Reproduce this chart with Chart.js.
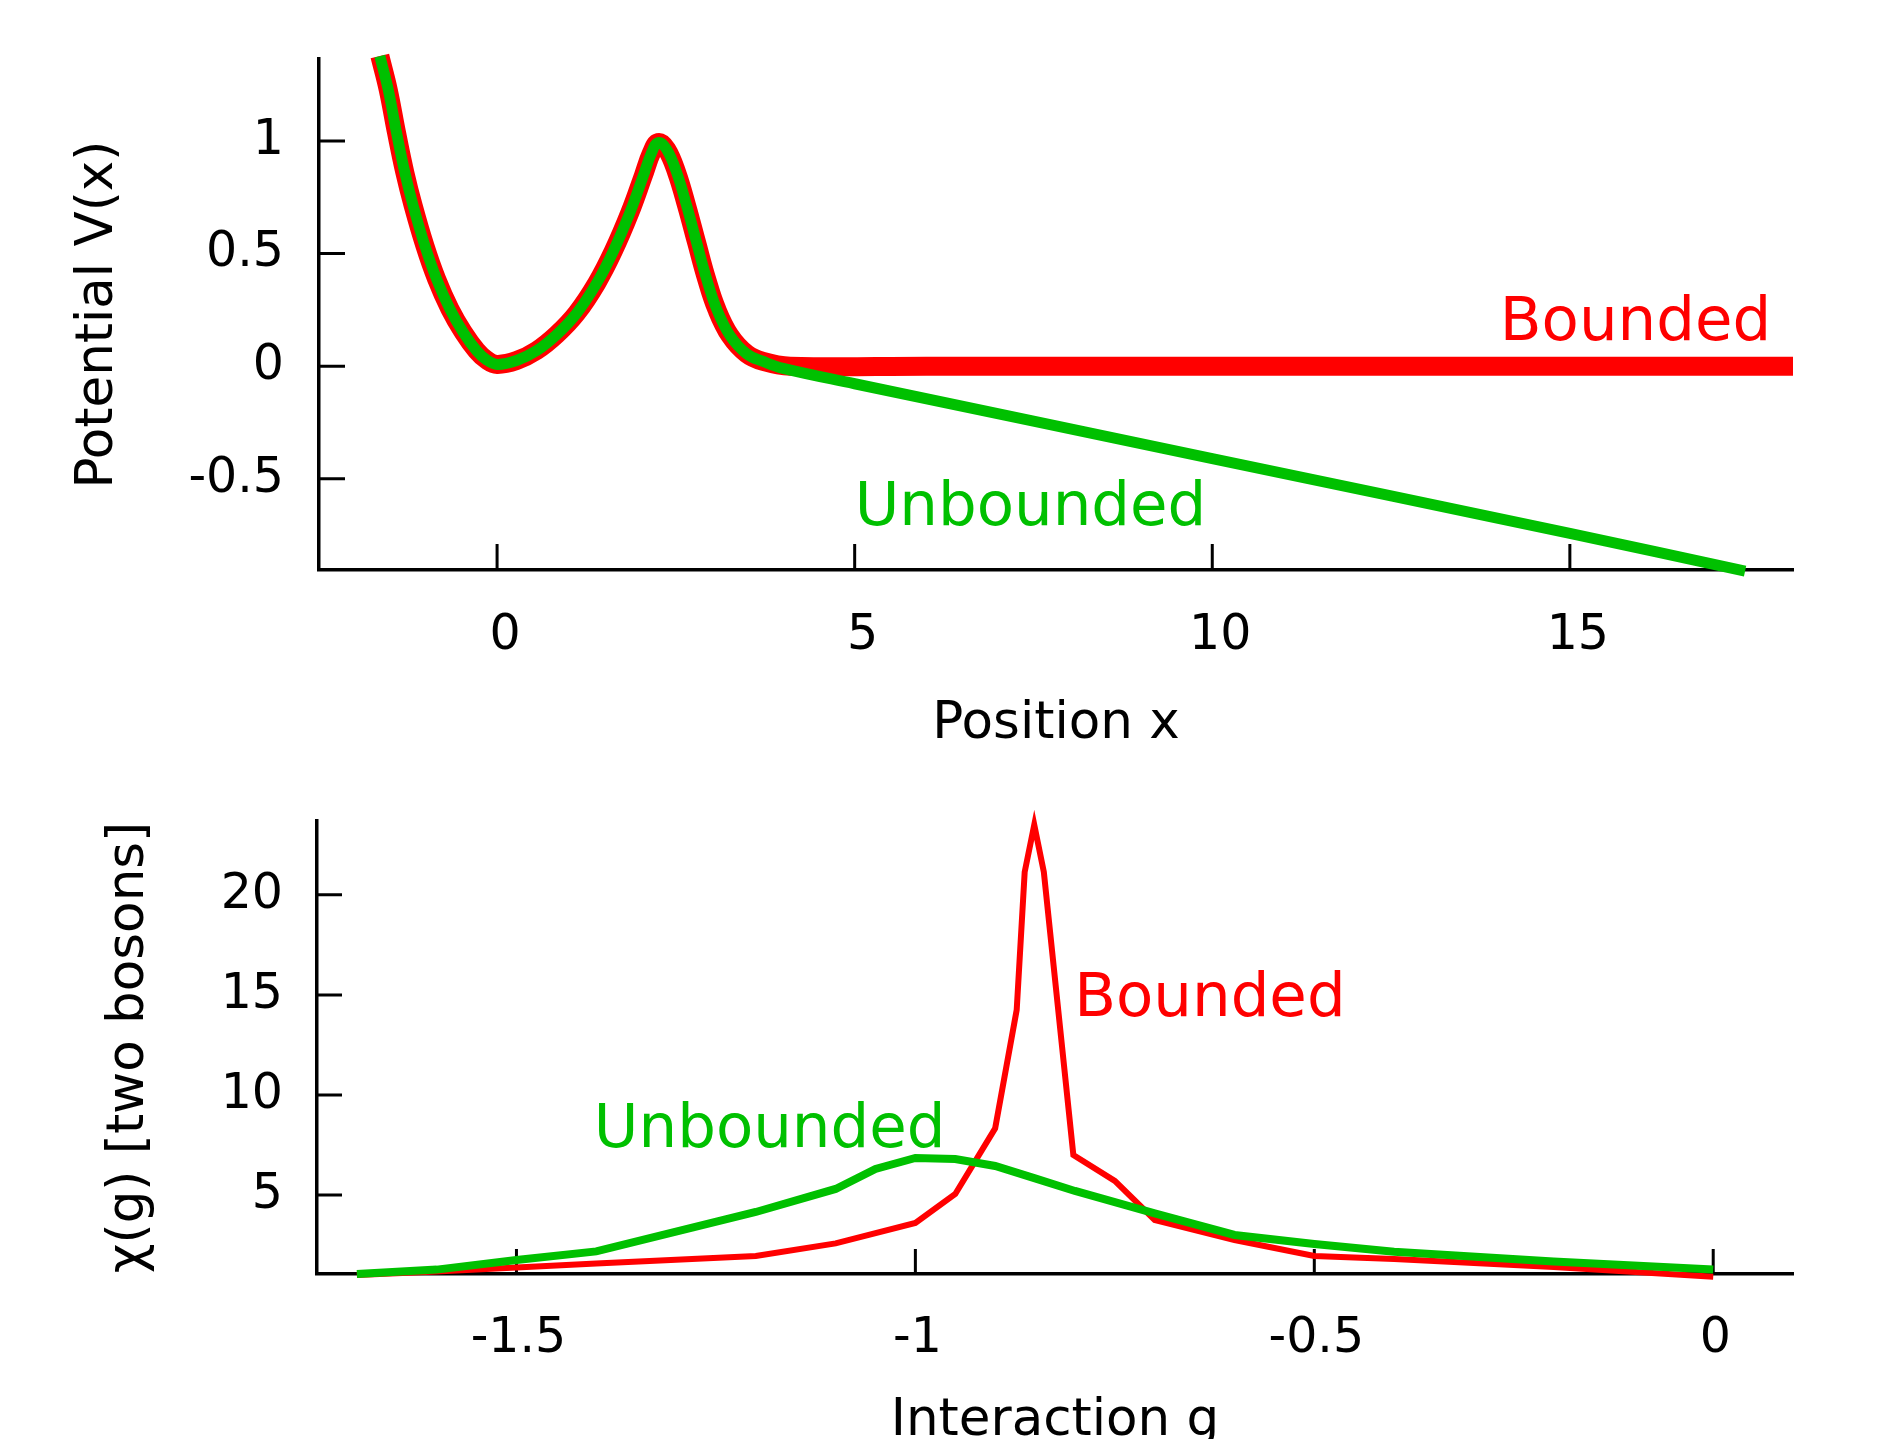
<!DOCTYPE html>
<html>
<head>
<meta charset="utf-8">
<title>Bounded vs unbounded</title>
<script src="https://cdn.jsdelivr.net/npm/chart.js@4.4.1/dist/chart.umd.min.js"></script>
<style>
  html, body { margin: 0; padding: 0; background: #fff; }
  canvas { display: block; }
</style>
</head>
<body>
<canvas id="chart-potential" width="1883" height="760"></canvas>
<canvas id="chart-chi" width="1883" height="679"></canvas>
<script>
// ══════════════════════════════════════════════
// Potential V(x) and response chi(g), two panels
// ══════════════════════════════════════════════

const FONT  = '"DejaVu Sans", sans-serif';
const RED   = '#ff0000';
const GREEN = '#00c000';

// ─── top panel: potential ─────────────────────
const posTicks = [0, 5, 10, 15];
const potTicks = [-0.5, 0, 0.5, 1];

// shared well + barrier part of the potential
const wellX = [-1.639, -1.523, -1.406, -1.29, -1.173, -1.01, -0.846, -0.66, -0.474, -0.287, -0.147, 0.0,
               0.273, 0.552, 0.832, 1.112, 1.392, 1.624, 1.857, 2.044, 2.16, 2.253, 2.371, 2.511,
               2.651, 2.79, 2.93, 3.07, 3.256, 3.49, 3.72];
const wellV = [1.377, 1.229, 1.037, 0.86, 0.712, 0.535, 0.387, 0.254, 0.151, 0.069, 0.028, 0.008,
               0.025, 0.069, 0.14, 0.235, 0.368, 0.51, 0.682, 0.845, 0.948, 0.993, 0.963, 0.86,
               0.712, 0.549, 0.387, 0.254, 0.136, 0.055, 0.021];

// tails: bounded stays flat, unbounded tilts down
const boundTailX = [4.1, 6, 10, 14, 18.12];
const boundTailV = [0, 0, 0, 0, 0];
const freeTailX  = [4.0, 5, 10, 15, 17.45];
const freeTailV  = [-0.01, -0.078, -0.41, -0.742, -0.91];

// ─── bottom panel: chi(g) ─────────────────────
const gTicks   = [-1.5, -1, -0.5, 0];
const chiTicks = [5, 10, 15, 20];

const gBound   = [-1.7, -1.6, -1.5, -1.4, -1.2, -1.1, -1.0, -0.95, -0.9, -0.873, -0.863, -0.851,
                  -0.839, -0.802, -0.75, -0.7, -0.6, -0.5, -0.4, -0.2, 0];
const chiBound = [1.0, 1.18, 1.38, 1.58, 1.95, 2.58, 3.6, 5.05, 8.33, 14.25, 21.14, 23.5,
                  21.14, 7.0, 5.7, 3.75, 2.75, 1.95, 1.8, 1.4, 0.91];

const gFree    = [-1.7, -1.6, -1.5, -1.4, -1.2, -1.1, -1.05, -1.0, -0.95, -0.9, -0.85, -0.8,
                  -0.7, -0.6, -0.5, -0.4, -0.2, 0];
const chiFree  = [1.05, 1.27, 1.75, 2.18, 4.15, 5.3, 6.3, 6.85, 6.8, 6.45, 5.83, 5.2,
                  4.08, 3.0, 2.55, 2.16, 1.68, 1.27];

const pts = (xs, ys) => xs.map((x, i) => ({ x, y: ys[i] }));

// ─── plugins ──────────────────────────────────
// tick marks point into the plot area
const inwardTicks = {
  id: 'inwardTicks',
  beforeDatasetsDraw(chart, args, opts) {
    const { ctx, chartArea: a, scales: { x, y } } = chart;
    const len = opts.length || 25;
    ctx.save();
    ctx.strokeStyle = '#000';
    ctx.lineWidth = 3;
    ctx.beginPath();
    x.ticks.forEach(t => {
      const px = x.getPixelForValue(t.value);
      ctx.moveTo(px, a.bottom);
      ctx.lineTo(px, a.bottom - len);
    });
    y.ticks.forEach(t => {
      const py = y.getPixelForValue(t.value);
      ctx.moveTo(a.left, py);
      ctx.lineTo(a.left + len, py);
    });
    ctx.stroke();
    ctx.restore();
  },
};

// coloured curve names, placed in data coordinates
const curveLabels = {
  id: 'curveLabels',
  afterDatasetsDraw(chart, args, opts) {
    const { ctx, scales: { x, y } } = chart;
    ctx.save();
    ctx.font = `${opts.size || 61}px ${FONT}`;
    ctx.textAlign = 'left';
    ctx.textBaseline = 'alphabetic';
    (opts.items || []).forEach(it => {
      ctx.fillStyle = it.color;
      ctx.fillText(it.text, x.getPixelForValue(it.x), y.getPixelForValue(it.y));
    });
    ctx.restore();
  },
};

// ─── helpers ──────────────────────────────────
function axisOpts(a, horizontal) {
  return {
    type: 'linear',
    bounds: 'data',
    min: a.min,
    max: a.max,
    afterBuildTicks: s => { s.ticks = a.ticks.map(v => ({ value: v })); },
    afterFit: s => { if (horizontal) s.height = a.size; else s.width = a.size; },
    grid: { display: false },
    border: { display: true, color: '#000', width: 3.5 },
    ticks: {
      autoSkip: false,
      maxRotation: 0,
      padding: a.pad,
      labelOffset: a.shift || 0,
      color: '#000',
      font: { family: FONT, size: 49 },
      callback: v => String(v),
    },
    title: {
      display: true,
      text: a.title,
      color: '#000',
      font: { family: FONT, size: 51.5, lineHeight: 0.8 },
      padding: a.titlePad,
    },
  };
}

function line(data, color, width, order, smooth) {
  return {
    data,
    borderColor: color,
    borderWidth: width,
    order,
    clip: false,
    pointRadius: 0,
    fill: false,
    borderCapStyle: 'butt',
    borderJoinStyle: smooth ? 'round' : 'miter',
    tension: smooth ? 0.4 : 0,
  };
}

function makePanel(id, cfg) {
  return new Chart(document.getElementById(id), {
    type: 'line',
    data: { datasets: cfg.datasets },
    options: {
      responsive: false,
      animation: false,
      events: [],
      layout: { padding: { left: 0, top: cfg.top, right: 90, bottom: 0 } },
      plugins: {
        legend: { display: false },
        tooltip: { enabled: false },
        inwardTicks: { length: cfg.tickLen },
        curveLabels: { items: cfg.labels },
      },
      scales: {
        x: axisOpts(cfg.x, true),
        y: axisOpts(cfg.y, false),
      },
    },
    plugins: [inwardTicks, curveLabels],
  });
}

// ─── top: potential ───────────────────────────
makePanel('chart-potential', {
  top: 59,
  tickLen: 26,
  datasets: [
    line(pts(wellX.concat(boundTailX), wellV.concat(boundTailV)), RED, 19, 1, true),
    line(pts(wellX.concat(freeTailX), wellV.concat(freeTailV)), GREEN, 11, 0, true),
  ],
  x: { min: -2.49, max: 18.12, ticks: posTicks, size: 190, pad: 29, shift: 8,
       title: 'Position x', titlePad: { top: 0, bottom: 15 } },
  y: { min: -0.905, max: 1.364, ticks: potTicks, size: 319, pad: 27,
       title: 'Potential V(x)', titlePad: { top: 78, bottom: 0 } },
  labels: [
    { text: 'Bounded',   x: 14.02, y: 0.118,  color: RED },
    { text: 'Unbounded', x: 5.0,   y: -0.704, color: GREEN },
  ],
});

// ─── bottom: chi(g) ───────────────────────────
makePanel('chart-chi', {
  top: 61,
  tickLen: 25,
  datasets: [
    line(pts(gBound, chiBound), RED, 6, 1, false),
    line(pts(gFree, chiFree), GREEN, 8, 0, false),
  ],
  x: { min: -1.75, max: 0.1, ticks: gTicks, size: 165, pad: 28, shift: 2,
       title: 'Interaction g', titlePad: { top: 0, bottom: -3 } },
  y: { min: 1.05, max: 23.69, ticks: chiTicks, size: 317, pad: 26,
       title: 'χ(g) [two bosons]', titlePad: { top: 109, bottom: 0 } },
  labels: [
    { text: 'Bounded',   x: -0.801, y: 13.94, color: RED },
    { text: 'Unbounded', x: -1.403, y: 7.41,  color: GREEN },
  ],
});
</script>
</body>
</html>
